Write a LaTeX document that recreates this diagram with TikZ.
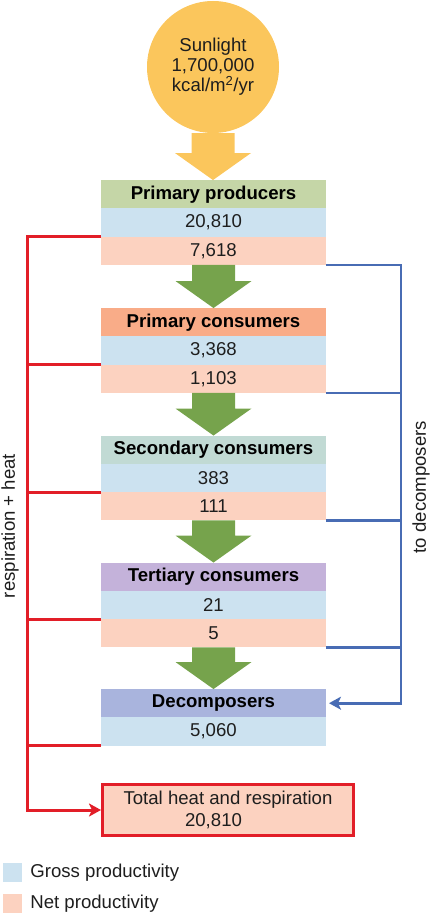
\documentclass[tikz,border=0pt]{standalone}
\usepackage{fontspec}
\setmainfont{Liberation Sans}
\usetikzlibrary{positioning,calc,arrows.meta}

\definecolor{sunyellow}{RGB}{251,198,92}
\definecolor{flowgreen}{RGB}{118,163,76}
\definecolor{grossblue}{RGB}{204,226,240}
\definecolor{netpink}{RGB}{252,210,192}
\definecolor{ppgreen}{RGB}{197,214,167}
\definecolor{pcorange}{RGB}{249,172,136}
\definecolor{scteal}{RGB}{193,218,212}
\definecolor{tcpurple}{RGB}{196,178,218}
\definecolor{dcblue}{RGB}{169,180,221}
\definecolor{heatred}{RGB}{226,30,40}
\definecolor{decayblue}{RGB}{72,108,180}
\definecolor{textgray}{RGB}{30,30,30}

\newcommand{\flowarrow}[3]{%
  \fill[#3] let \p1=(#1.south), \p2=(#2.north) in
    (\x1-21.5pt,\y1) -- (\x1+21.5pt,\y1) -- (\x1+21.5pt,\y2+27pt) -- (\x1+38pt,\y2+27pt)
    -- (\x1,\y2) -- (\x1-38pt,\y2+27pt) -- (\x1-21.5pt,\y2+27pt) -- cycle;}

\begin{document}
\begin{tikzpicture}[x=1pt,y=-1pt]
\tikzset{levelrow/.style = {minimum width=225pt,minimum height=28.3pt,inner sep=0pt,outer sep=0pt,
  font=\fontsize{18.6}{22}\selectfont,text=textgray}}
\tikzset{levelname/.style = {levelrow,font=\fontsize{18.6}{22}\selectfont\bfseries,text=black}}
\tikzset{grossrow/.style = {levelrow,fill=grossblue}}
\tikzset{netrow/.style = {levelrow,fill=netpink}}
\tikzset{heatline/.style = {draw=heatred,line width=3pt}}
\tikzset{decayline/.style = {draw=decayblue,line width=2.8pt}}
\tikzset{sidetext/.style = {inner sep=0pt,font=\fontsize{18.6}{22}\selectfont,text=textgray}}
\useasboundingbox (0,0) rectangle (433,915);

% sunlight
\node[circle,fill=sunyellow,minimum size=132pt,inner sep=0pt,align=center,
  font=\fontsize{18.6}{20}\selectfont,text=textgray] (sun) at (213,67)
  {Sunlight\\1,700,000\\kcal/m\textsuperscript{2}/yr};

% trophic levels
\node[levelname,fill=ppgreen] (pp) at (213.5,194.2) {Primary producers};
\node[grossrow,below=0pt of pp] (ppg) {20,810};
\node[netrow,below=0pt of ppg] (ppn) {7,618};

\node[levelname,fill=pcorange] (pc) at (213.5,322.2) {Primary consumers};
\node[grossrow,below=0pt of pc] (pcg) {3,368};
\node[netrow,below=0pt of pcg] (pcn) {1,103};

\node[levelname,fill=scteal] (sc) at (213.5,449.7) {Secondary consumers};
\node[grossrow,below=0pt of sc] (scg) {383};
\node[netrow,below=0pt of scg] (scn) {111};

\node[levelname,fill=tcpurple] (tc) at (213.5,576.7) {Tertiary consumers};
\node[grossrow,below=0pt of tc] (tcg) {21};
\node[netrow,below=0pt of tcg] (tcn) {5};

\node[levelname,fill=dcblue] (dc) at (213.5,703.2) {Decomposers};
\node[grossrow,below=0pt of dc] (dcg) {5,060};

\node[draw=heatred,line width=3pt,fill=netpink,minimum width=251pt,minimum height=51pt,
  inner sep=0pt,align=center,font=\fontsize{18.6}{22}\selectfont,text=textgray] (total) at (228,810)
  {Total heat and respiration\\20,810\hspace*{29pt}};

% energy flow
\flowarrow{sun}{pp}{sunyellow}
\flowarrow{ppn}{pc}{flowgreen}
\flowarrow{pcn}{sc}{flowgreen}
\flowarrow{scn}{tc}{flowgreen}
\flowarrow{tcn}{dc}{flowgreen}

% respiration + heat
\coordinate (rline) at (27,0);
\draw[heatline,-{Stealth[length=12pt,width=13pt,inset=3pt]}] (ppg.south west) -- (ppg.south west -| rline)
  -- (total.west -| rline) -- (total.west);
\foreach \n in {pcg,scg,tcg,dcg}
  \draw[heatline] (\n.south west) -- (\n.south west -| rline);
\node[sidetext,rotate=90] (resp) at (10,526) {respiration + heat};

% to decomposers
\coordinate (bline) at (401,0);
\draw[decayline,-{Stealth[length=12pt,width=13pt,inset=3pt]},shorten >=3pt] (ppn.south east)
  -- (ppn.south east -| bline) -- (dc.east -| bline) -- (dc.east);
\foreach \n in {pcn,scn,tcn}
  \draw[decayline] (\n.south east) -- (\n.south east -| bline);
\node[sidetext,rotate=90] (decomp) at (421,487) {to decomposers};

% legend
\node[fill=grossblue,minimum size=19pt,inner sep=0pt] (lgross) at (12,872.5) {};
\node[sidetext,right=8.5pt of lgross] (tgross) {Gross productivity};
\node[fill=netpink,minimum size=19pt,inner sep=0pt] (lnet) at (12,903.5) {};
\node[sidetext,right=8.5pt of lnet] (tnet) {Net productivity};
\end{tikzpicture}
\end{document}
